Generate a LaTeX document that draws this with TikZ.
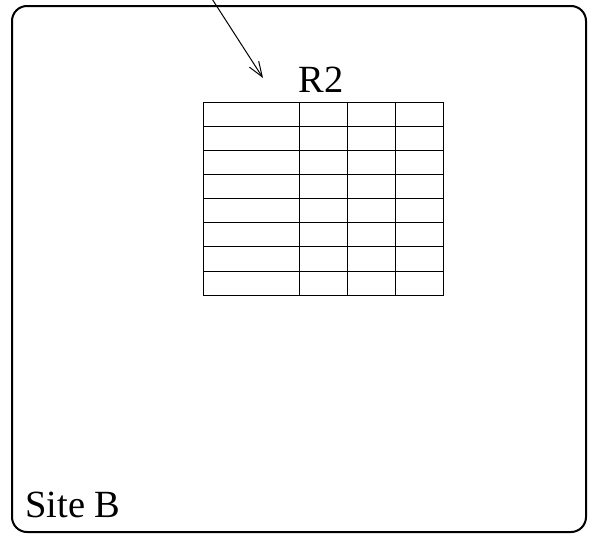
\documentclass[tikz,border=0pt]{standalone}
\usepackage{fontspec}
\setmainfont{Liberation Serif}
\usetikzlibrary{arrows.meta}
\begin{document}
\begin{tikzpicture}[x=1pt,y=-1pt,
  framebox/.style={draw, line width=2pt, rounded corners=15pt},
  grid line/.style={draw, line width=1pt},
  lbl/.style={font=\fontsize{38.5}{44}\selectfont, inner sep=0pt},
  pointer/.style={line width=1pt, -{Straight Barb[length=15pt,width=11pt,line width=1pt]}}]
  \useasboundingbox (0,0) rectangle (592,536);
  % frame
  \draw[framebox] (12,6) rectangle (586,532);
  % table
  \draw[grid line] (203.3,102.3) rectangle (443.3,295);
  \foreach \y in {126.4,150.5,174.6,198.7,222.8,246.9,271.0}
    \draw[grid line] (203.3,\y) -- (443.3,\y);
  \foreach \x in {299.3,347.3,395.7}
    \draw[grid line] (\x,102.3) -- (\x,295);
  % labels
  \node[lbl, anchor=base] (r2) at (321,92) {R2};
  \node[lbl, anchor=base west] (site) at (25,517) {Site B};
  % arrow
  \coordinate (src) at (205,-12);
  \coordinate (dst) at (263,78);
  \draw[pointer] (src) -- (dst);
\end{tikzpicture}
\end{document}
